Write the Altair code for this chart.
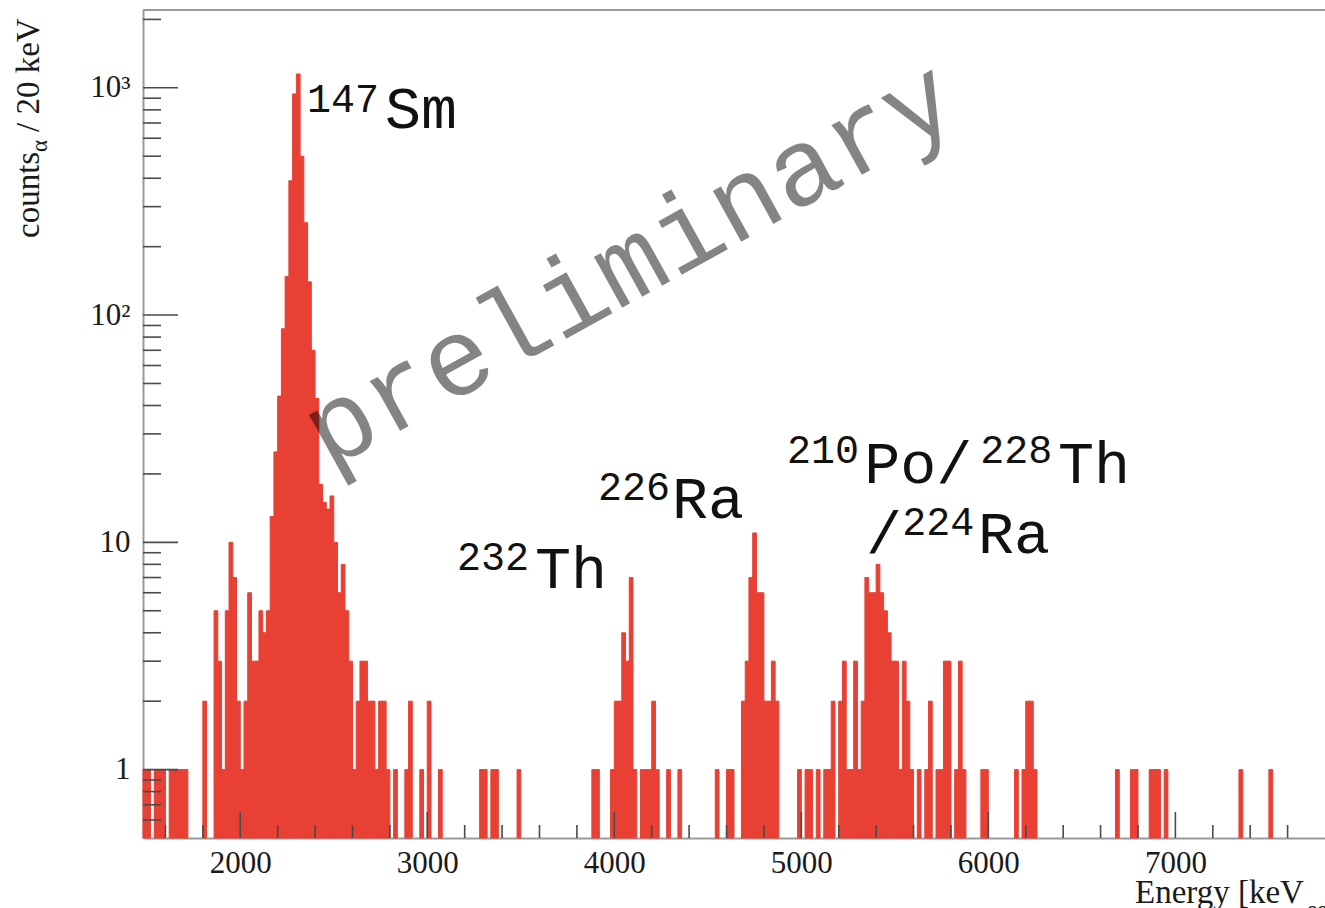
import altair as alt
import pandas as pd

# ---------------- data ----------------
BIN_WIDTH = 20  # keV
bin_start_kev = [
    1480, 1500, 1540, 1560, 1580, 1620, 1640, 1660, 1680, 1700,
    1800,
    1860, 1880, 1900, 1920, 1940, 1960, 1980, 2000, 2020, 2040, 2060, 2080, 2100, 2120, 2140,
    2160, 2180, 2200, 2220, 2240, 2260, 2280, 2300, 2320, 2340, 2360, 2380, 2400, 2420, 2440,
    2460, 2480, 2500, 2520, 2540, 2560, 2580, 2600, 2620, 2640, 2660, 2680, 2700, 2720, 2740,
    2760, 2780,
    2820, 2880, 2900, 2960, 3000, 3060,
    3280, 3300, 3340, 3360, 3480,
    3880, 3900, 3980, 4000, 4020, 4040, 4060, 4080, 4100,
    4140, 4160, 4180, 4200, 4220, 4280, 4340, 4540, 4600, 4620,
    4680, 4700, 4720, 4740, 4760, 4780, 4800, 4820, 4840, 4860,
    4980, 5020, 5040, 5080, 5120, 5140, 5160, 5200, 5220, 5240, 5260, 5280, 5300, 5320,
    5340, 5360, 5380, 5400, 5420, 5440, 5460, 5480, 5500, 5520, 5540, 5560, 5580,
    5620, 5660, 5680, 5720, 5740, 5760, 5780, 5820, 5840, 5860, 5960, 5980,
    6140, 6180, 6200, 6220, 6240, 6680, 6760, 6780, 6860, 6880, 6900, 6940, 7340, 7500,
]
counts = [
    1, 1, 1, 1, 1, 1, 1, 1, 1, 1,
    2,
    5, 3, 1, 5, 10, 7, 2, 1, 2, 6, 3, 3, 5, 4, 5,
    13, 25, 44, 87, 148, 390, 940, 1150, 500, 255, 140, 70, 43, 18, 15,
    14, 16, 10, 6, 8, 5, 3, 1, 2, 3, 3, 2, 2, 1, 2,
    2, 1,
    1, 1, 2, 1, 2, 1,
    1, 1, 1, 1, 1,
    1, 1, 1, 2, 2, 4, 3, 7, 1,
    1, 1, 1, 2, 1, 1, 1, 1, 1, 1,
    2, 3, 7, 11, 6, 6, 2, 2, 3, 2,
    1, 1, 1, 1, 1, 1, 2, 2, 3, 1, 1, 3, 1, 2,
    7, 6, 6, 8, 6, 5, 4, 3, 3, 1, 3, 2, 1,
    1, 1, 2, 1, 1, 3, 3, 1, 3, 1, 1, 1,
    1, 1, 2, 2, 1, 1, 1, 1, 1, 1, 1, 1, 1, 1,
]

x_tick_major = [2000, 3000, 4000, 5000, 6000, 7000]
x_tick_minor = [v for v in range(1600, 7800, 200) if v % 1000 != 0]
y_tick_major = [1, 10, 100, 1000]
y_tick_minor = [0.6, 0.7, 0.8, 0.9] + [m * 10 ** d for d in range(0, 3) for m in range(2, 10)] + [2000]

# isotope labels: text, anchor energy (keV), anchor count, font size
label_text = ["147", "Sm", "232", "Th", "226", "Ra", "210", "Po/", "228", "Th", "/", "224", "Ra"]
label_kev = [2357, 2774, 3159, 3576, 3913, 4309, 4924, 5336, 5956, 6373, 5346, 5539, 5945]
label_cnt = [780, 664, 7.57, 6.31, 15.4, 12.8, 22.4, 18.3, 22.4, 18.3, 9.0, 10.8, 9.0]
label_size = [40, 60, 40, 60, 40, 60, 40, 60, 40, 60, 60, 40, 60]

# ---------------- layout / style ----------------
X_MIN, X_MAX = 1480, 7800
Y_MIN, Y_MAX = 0.5, 2200
PLOT_W, PLOT_H = 1182, 828
RED = "#e84034"
AXIS_GRAY = "#9a9a9a"
TICK_COLOR = "#4a4a4a"
SERIF = "Liberation Serif"
MONO = "Liberation Mono"

xscale = alt.Scale(domain=[X_MIN, X_MAX], nice=False, zero=False)
yscale = alt.Scale(type="log", domain=[Y_MIN, Y_MAX], nice=False)

x_axis = alt.Axis(values=x_tick_major, format="d", ticks=False, grid=False, title=None,
                  labelFont=SERIF, labelFontSize=31, labelColor="#1a1a1a", labelPadding=10,
                  domainColor=AXIS_GRAY, domainWidth=2)
y_axis = alt.Axis(values=y_tick_major, ticks=False, grid=False, title=None,
                  labelExpr="datum.value == 1 ? '1' : datum.value == 10 ? '10' : datum.value == 100 ? '10\u00b2' : '10\u00b3'",
                  labelFont=SERIF, labelFontSize=31, labelColor="#1a1a1a", labelPadding=13,
                  domainColor=AXIS_GRAY, domainWidth=2)

hist = pd.DataFrame({"e_lo": bin_start_kev, "count": counts})
hist["e_hi"] = hist["e_lo"] + BIN_WIDTH

bars = alt.Chart(hist).mark_rect(color=RED, stroke=RED, strokeWidth=1.0, opacity=1).encode(
    x=alt.X("e_lo:Q", scale=xscale, axis=x_axis),
    x2="e_hi:Q",
    y=alt.Y("count:Q", scale=yscale, axis=y_axis),
    y2=alt.value(PLOT_H),
)

ytm = alt.Chart(pd.DataFrame({"v": y_tick_major})).mark_rule(color=TICK_COLOR, strokeWidth=1.6).encode(
    y=alt.Y("v:Q", scale=yscale, axis=y_axis), x=alt.value(0), x2=alt.value(35))
ytn = alt.Chart(pd.DataFrame({"v": y_tick_minor})).mark_rule(color=TICK_COLOR, strokeWidth=1.6).encode(
    y=alt.Y("v:Q", scale=yscale, axis=y_axis), x=alt.value(0), x2=alt.value(18))
xtm = alt.Chart(pd.DataFrame({"v": x_tick_major})).mark_rule(color=TICK_COLOR, strokeWidth=1.6).encode(
    x=alt.X("v:Q", scale=xscale, axis=x_axis), y=alt.value(PLOT_H), y2=alt.value(PLOT_H - 26))
xtn = alt.Chart(pd.DataFrame({"v": x_tick_minor})).mark_rule(color=TICK_COLOR, strokeWidth=1.6).encode(
    x=alt.X("v:Q", scale=xscale, axis=x_axis), y=alt.value(PLOT_H), y2=alt.value(PLOT_H - 13))

top_frame = alt.Chart(pd.DataFrame({"a": [0]})).mark_rule(color=AXIS_GRAY, strokeWidth=2).encode(
    x=alt.value(0), x2=alt.value(PLOT_W), y=alt.value(0))

labels = alt.Chart(pd.DataFrame({"t": label_text, "e": label_kev, "c": label_cnt, "s": label_size})).mark_text(
    font=MONO, align="left", baseline="alphabetic", color="#111111").encode(
    x=alt.X("e:Q", scale=xscale, axis=x_axis),
    y=alt.Y("c:Q", scale=yscale, axis=y_axis),
    text="t:N",
    size=alt.Size("s:Q", scale=None, legend=None),
)

watermark = alt.Chart(pd.DataFrame({"t": ["preliminary"], "e": [4084], "c": [165]})).mark_text(
    font=MONO, fontSize=110, angle=331, align="center", baseline="middle", color="#000000", opacity=0.48).encode(
    x=alt.X("e:Q", scale=xscale, axis=x_axis),
    y=alt.Y("c:Q", scale=yscale, axis=y_axis),
    text="t:N",
)

# axis titles (ROOT style, with sub-scripts)
ytitle_a = alt.Chart(pd.DataFrame({"t": ["counts"]})).mark_text(
    font=SERIF, fontSize=33, angle=270, align="left", baseline="alphabetic", color="#1a1a1a").encode(
    text="t:N", x=alt.value(-104), y=alt.value(228))
ytitle_b = alt.Chart(pd.DataFrame({"t": ["\u03b1"]})).mark_text(
    font=SERIF, fontSize=23, angle=270, align="left", baseline="alphabetic", color="#1a1a1a").encode(
    text="t:N", x=alt.value(-96), y=alt.value(142))
ytitle_c = alt.Chart(pd.DataFrame({"t": ["/ 20 keV"]})).mark_text(
    font=SERIF, fontSize=33, angle=270, align="left", baseline="alphabetic", color="#1a1a1a").encode(
    text="t:N", x=alt.value(-104), y=alt.value(122))

xtitle_a = alt.Chart(pd.DataFrame({"t": ["Energy [keV"]})).mark_text(
    font=SERIF, fontSize=33, align="left", baseline="alphabetic", color="#1a1a1a").encode(
    text="t:N", x=alt.value(992), y=alt.value(893))
xtitle_b = alt.Chart(pd.DataFrame({"t": ["ee"]})).mark_text(
    font=SERIF, fontSize=23, align="left", baseline="alphabetic", color="#1a1a1a").encode(
    text="t:N", x=alt.value(1164), y=alt.value(907))

chart = alt.layer(
    bars, ytn, ytm, xtn, xtm, top_frame, labels, watermark,
    ytitle_a, ytitle_b, ytitle_c, xtitle_a, xtitle_b,
).properties(
    width=PLOT_W, height=PLOT_H,
    autosize=alt.AutoSizeParams(type="none"),
    padding={"left": 143, "top": 10, "right": 0, "bottom": 70},
).configure_view(stroke=None).configure(background="white")

chart.save("out.html", embed_options={"renderer": "svg", "actions": False})
